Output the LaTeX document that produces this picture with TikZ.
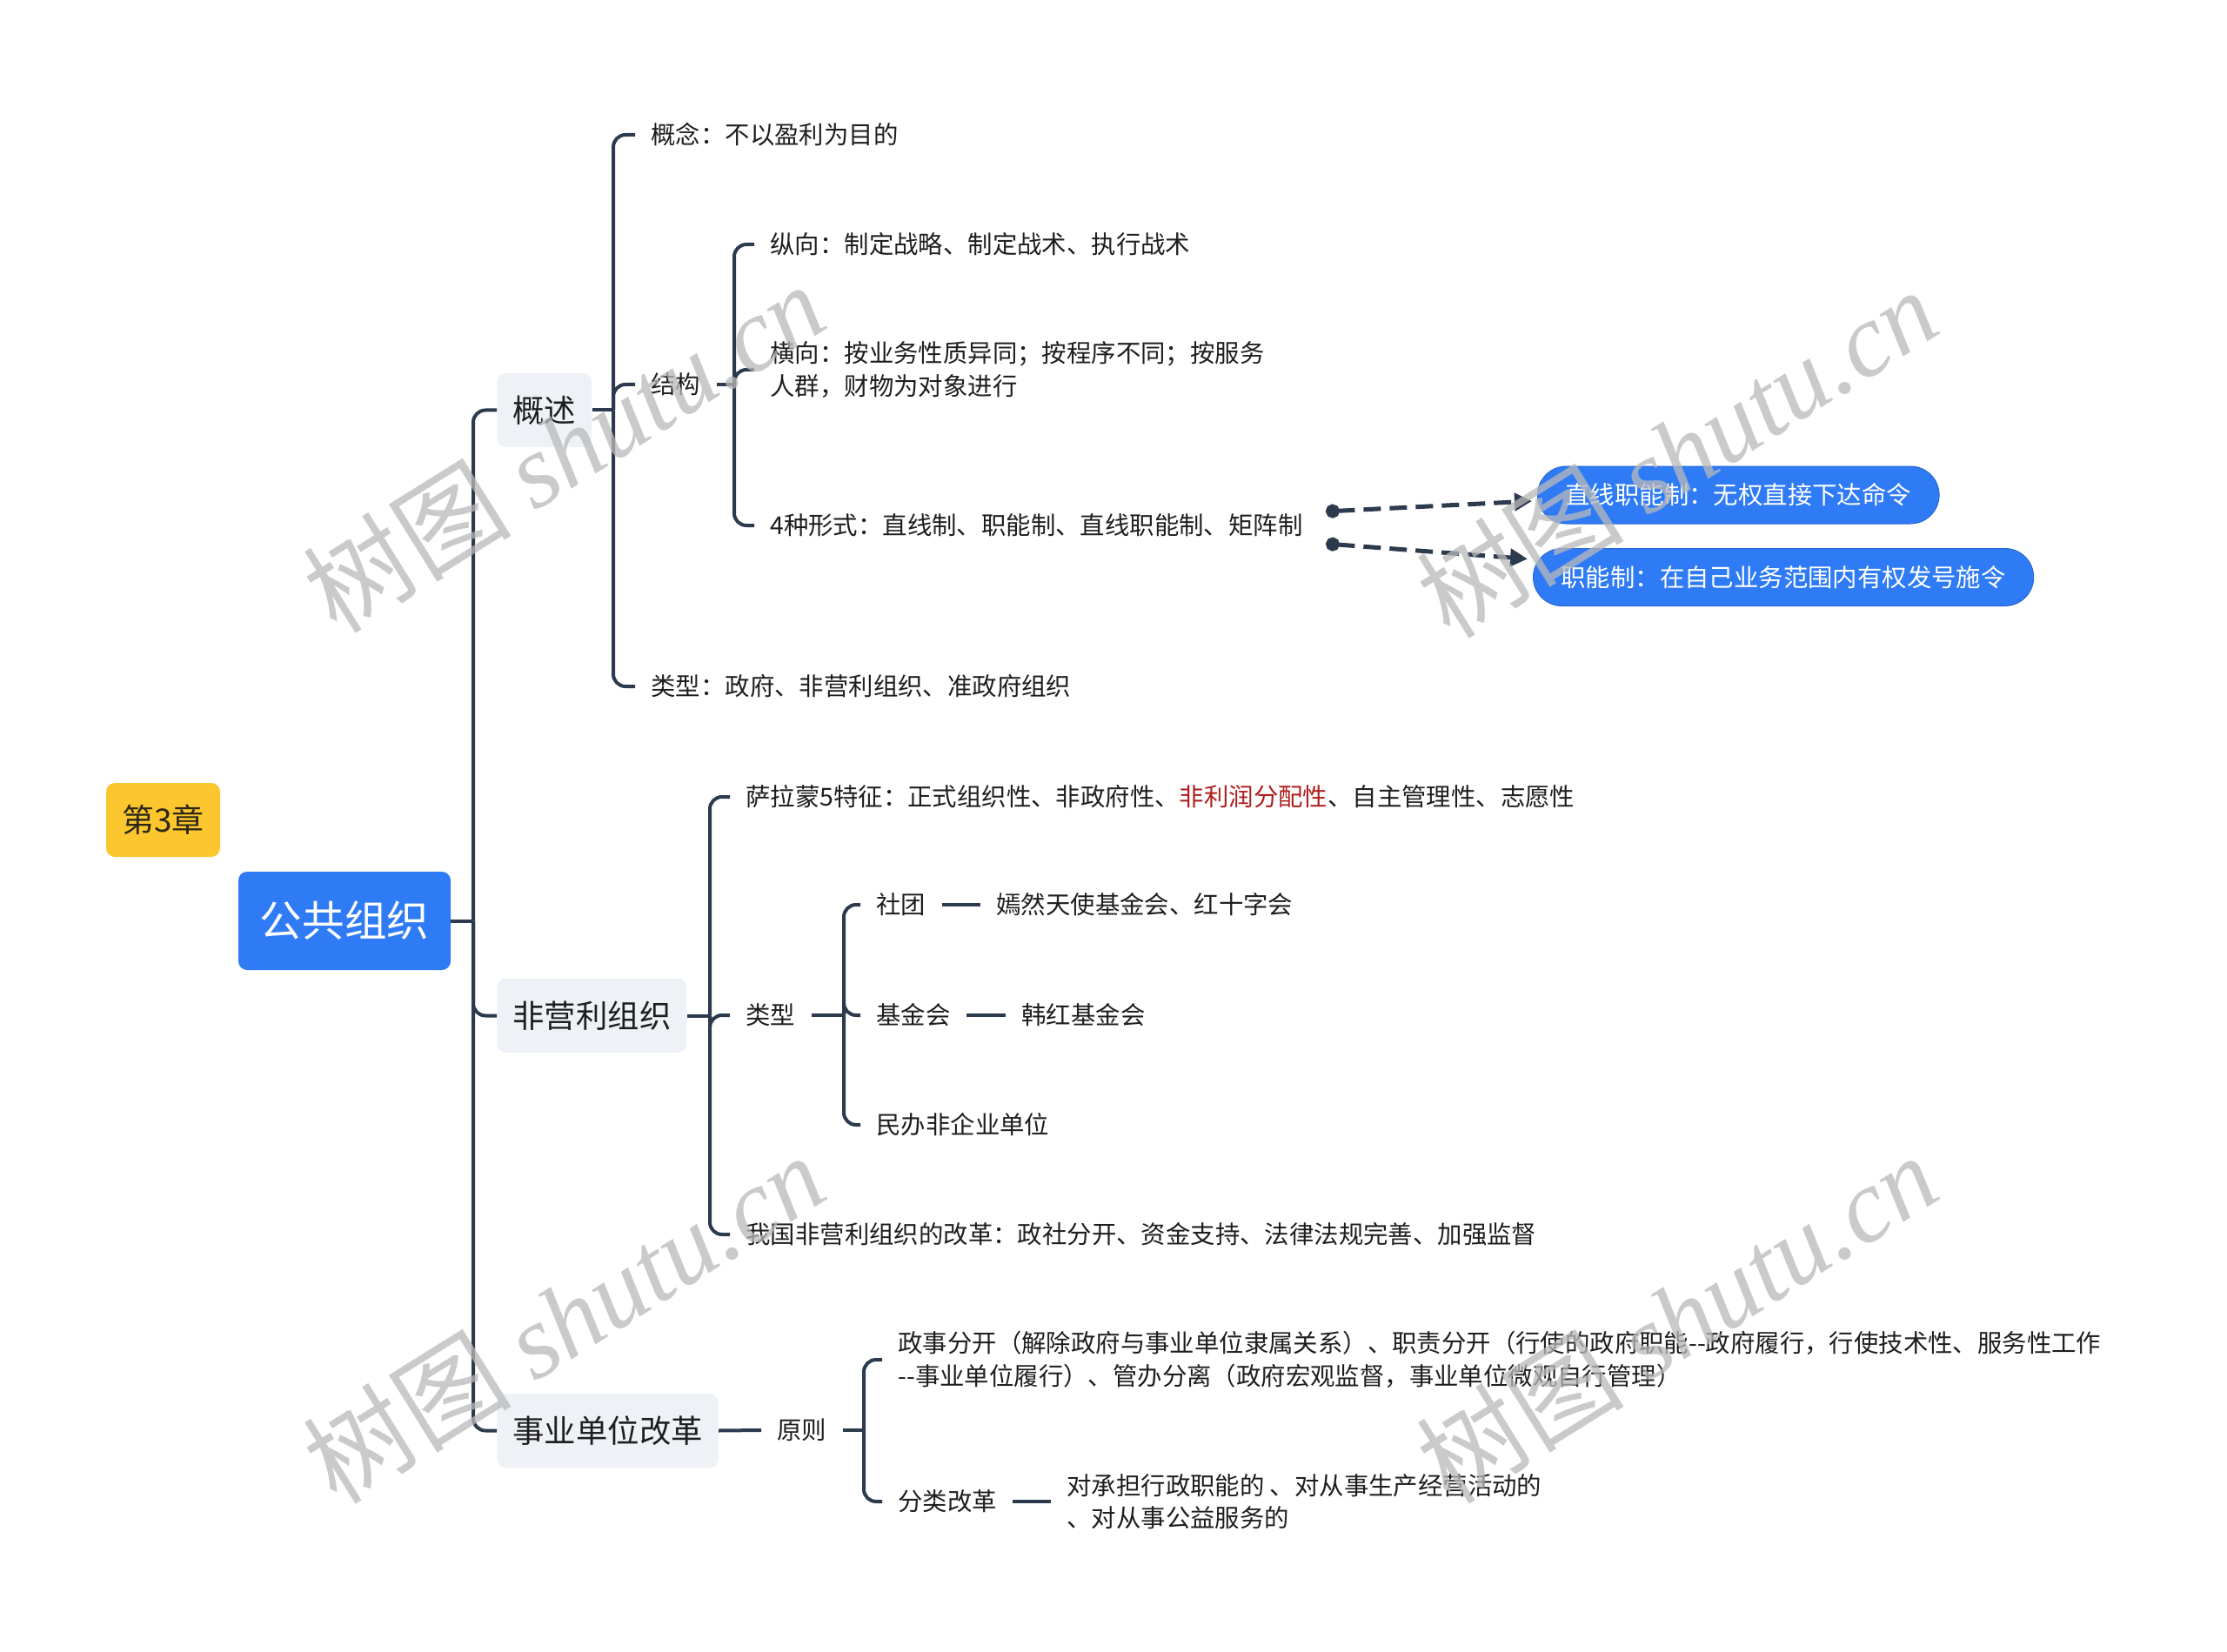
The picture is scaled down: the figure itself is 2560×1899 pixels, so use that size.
\documentclass[tikz,border=0pt]{standalone}
\usepackage{fontspec}
\setmainfont{Noto Sans CJK SC}
\newfontfamily\wmlat{Liberation Serif}
\usetikzlibrary{arrows.meta}
\definecolor{lnc}{HTML}{2C3A4E}
\definecolor{bluec}{HTML}{2F7BF5}
\definecolor{yellowc}{HTML}{FCC72E}
\definecolor{greyc}{HTML}{EEF1F5}
\definecolor{txtc}{HTML}{1E1E1E}
\definecolor{redc}{HTML}{B01E1E}
\definecolor{wmc}{RGB}{185,185,185}
\tikzset{
  txt/.style={anchor=west, inner xsep=9pt, inner ysep=2pt, text=txtc, align=left,
    font=\fontsize{14.2pt}{18.75pt}\selectfont},
  lvlone/.style={anchor=west, fill=greyc, rounded corners=5pt, inner xsep=9pt,
    minimum height=42.5pt, text=txtc, font=\fontsize{18.2pt}{22pt}\selectfont},
  pill/.style={anchor=west, fill=bluec, draw=bluec!85!black, line width=0.5pt, rounded corners=16.5pt,
    inner xsep=16pt, minimum height=33pt, text=white, font=\fontsize{14.2pt}{18.75pt}\selectfont},
  conn/.style={draw=lnc, line width=2pt, rounded corners=7pt},
  plain/.style={draw=lnc, line width=2pt},
  dasharr/.style={draw=lnc, line width=2.5pt, dash pattern=on 10pt off 5pt,
    {Circle[length=8pt]}-{Triangle[length=10pt,width=10pt]}},
  wm/.style={rotate=32, text=wmc, text opacity=0.75, inner sep=0pt}
}
\begin{document}
\begin{tikzpicture}[x=0.5pt,y=-0.5pt]
\useasboundingbox (0,0) rectangle (2560,1899);
\fill[white] (0,0) rectangle (2560,1899);

% root and tag
\node[fill=yellowc, rounded corners=5pt, minimum width=65.5pt, minimum height=42.5pt,
  text={rgb,255:red,45;green,40;blue,20}, font=\fontsize{18.5pt}{22pt}\selectfont] (tag) at (187.5,942.5) {第3章};
\node[fill=bluec, rounded corners=5pt, minimum width=122pt, minimum height=56.5pt,
  text=white, font=\fontsize{24.3pt}{28pt}\selectfont] (root) at (396,1058.5) {公共组织};

% level 1
\node[lvlone] (gaishu) at (571,471.5) {概述};
\node[lvlone] (fei) at (571,1167.5) {非营利组织};
\node[lvlone] (shiye) at (571,1644.5) {事业单位改革};

% level 2 under 概述
\node[txt] (gainian) at (730,155) {概念：不以盈利为目的};
\node[txt] (jiegou) at (730,442) {结构};
\node[txt] (lx1) at (730,789) {类型：政府、非营利组织、准政府组织};
\node[txt] (zong) at (867,281) {纵向：制定战略、制定战术、执行战术};
\node[txt] (heng) at (867,425) {横向：按业务性质异同；按程序不同；按服务\\人群，财物为对象进行};
\node[txt] (sizhong) at (867,604) {4种形式：直线制、职能制、直线职能制、矩阵制};
\node[pill] (pillA) at (1767,569) {直线职能制：无权直接下达命令};
\node[pill] (pillB) at (1762,663.5) {职能制：在自己业务范围内有权发号施令};

% level 2 under 非营利组织
\node[txt] (salm) at (839,916) {萨拉蒙5特征：正式组织性、非政府性、\textcolor{redc}{非利润分配性}、自主管理性、志愿性};
\node[txt] (lx2) at (839,1167) {类型};
\node[txt] (woguo) at (839,1419) {我国非营利组织的改革：政社分开、资金支持、法律法规完善、加强监督};
\node[txt] (shet) at (989,1040) {社团};
\node[txt] (yanr) at (1127,1040) {嫣然天使基金会、红十字会};
\node[txt] (jjh) at (989,1167) {基金会};
\node[txt] (hanh) at (1156,1167) {韩红基金会};
\node[txt] (minb) at (989,1293) {民办非企业单位};

% level 2 under 事业单位改革
\node[txt] (yuanz) at (875,1644) {原则};
\node[txt] (zhengs) at (1014,1563) {政事分开（解除政府与事业单位隶属关系）、职责分开（行使的政府职能-{}-政府履行，行使技术性、服务性工作\\-{}-事业单位履行）、管办分离（政府宏观监督，事业单位微观自行管理）};
\node[txt] (fenl) at (1014,1726) {分类改革};
\node[txt] (duic) at (1208,1726) {对承担行政职能的 、对从事生产经营活动的\\、对从事公益服务的};

% trunk coordinates
\coordinate (t0) at (544,0);
\coordinate (t1) at (705,0);
\coordinate (t2) at (844,0);
\coordinate (t3) at (816,0);
\coordinate (t4) at (970,0);
\coordinate (t5) at (993,0);

% root connectors
\draw[plain] (root.east) -- (root.east -| t0);
\draw[conn] (root.east -| t0) |- (gaishu.west);
\draw[conn] (root.east -| t0) |- (fei.west);
\draw[conn] (root.east -| t0) |- (shiye.west);

% 概述
\draw[plain] (gaishu.east) -- (gaishu.east -| t1);
\draw[conn] (gaishu.east -| t1) |- (gainian.west);
\draw[conn] (gaishu.east -| t1) |- (jiegou.west);
\draw[conn] (gaishu.east -| t1) |- (lx1.west);

% 结构
\draw[plain] (jiegou.east) -- (jiegou.east -| t2);
\draw[conn] (jiegou.east -| t2) |- (zong.west);
\draw[conn] (jiegou.east -| t2) |- (heng.west);
\draw[conn] (jiegou.east -| t2) |- (sizhong.west);

% dashed relations
\draw[dasharr] ([xshift=4pt,yshift=8pt]sizhong.east) -- ([xshift=-3pt,yshift=-3.5pt]pillA.west);
\draw[dasharr] ([xshift=4pt,yshift=-10.5pt]sizhong.east) -- ([xshift=-3pt,yshift=10.5pt]pillB.west);

% 非营利组织
\draw[plain] (fei.east) -- (fei.east -| t3);
\draw[conn] (fei.east -| t3) |- (salm.west);
\draw[conn] (fei.east -| t3) |- (lx2.west);
\draw[conn] (fei.east -| t3) |- (woguo.west);

\draw[plain] (lx2.east) -- (lx2.east -| t4);
\draw[conn] (lx2.east -| t4) |- (shet.west);
\draw[conn] (lx2.east -| t4) |- (jjh.west);
\draw[conn] (lx2.east -| t4) |- (minb.west);
\draw[plain] (shet.east) -- (yanr.west);
\draw[plain] (jjh.east) -- (hanh.west);

% 事业单位改革
\draw[plain] (shiye.east) -- (yuanz.west);
\draw[plain] (yuanz.east) -- (yuanz.east -| t5);
\draw[conn] (yuanz.east -| t5) |- (zhengs.west);
\draw[conn] (yuanz.east -| t5) |- (fenl.west);
\draw[plain] (fenl.east) -- (duic.west);

% watermarks
\node[wm, font=\fontsize{60pt}{60pt}\selectfont] (wm1) at (648,514) {树图 {\wmlat\itshape shutu.cn}};
\node[wm, font=\fontsize{60pt}{60pt}\selectfont] (wm2) at (1927,520) {树图 {\wmlat\itshape shutu.cn}};
\node[wm, font=\fontsize{60pt}{60pt}\selectfont] (wm3) at (648,1515) {树图 {\wmlat\itshape shutu.cn}};
\node[wm, font=\fontsize{60pt}{60pt}\selectfont] (wm4) at (1927,1515) {树图 {\wmlat\itshape shutu.cn}};
\end{tikzpicture}
\end{document}
